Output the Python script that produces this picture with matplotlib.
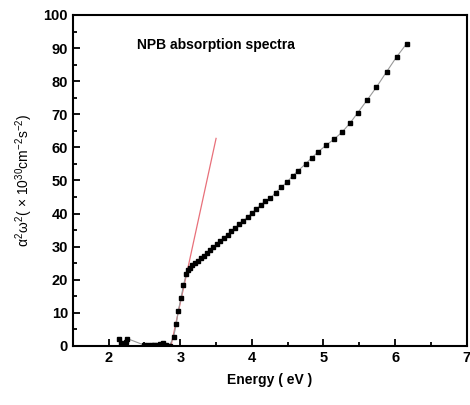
import matplotlib
matplotlib.use("Agg")
import matplotlib.pyplot as plt
from matplotlib.ticker import MultipleLocator

plt.rcParams['font.family'] = ['Liberation Sans', 'DejaVu Sans']
plt.rcParams['mathtext.fontset'] = 'custom'
plt.rcParams['mathtext.rm'] = 'Liberation Sans'
plt.rcParams['mathtext.it'] = 'Liberation Sans'
plt.rcParams['mathtext.bf'] = 'Liberation Sans:bold'

# data
energy = [2.14, 2.17, 2.19, 2.21, 2.24, 2.26,
          2.50, 2.55, 2.60, 2.64, 2.68, 2.72, 2.76, 2.80, 2.85,
          2.907, 2.944, 2.97, 3.01, 3.045, 3.085,
          3.11, 3.13, 3.17, 3.21, 3.25, 3.29, 3.33, 3.37, 3.42, 3.46, 3.51,
          3.56, 3.61, 3.66, 3.71, 3.77, 3.82, 3.88, 3.94, 4.00, 4.06, 4.13, 4.19,
          4.26, 4.33, 4.41, 4.49, 4.57, 4.65, 4.75, 4.84, 4.93, 5.04, 5.15,
          5.26, 5.37, 5.48, 5.61, 5.74, 5.88, 6.02, 6.16]
signal = [2.0, 1.0, 0.4, 0.4, 1.2, 2.2,
          0.2, 0.3, 0.3, 0.4, 0.4, 0.5, 0.8, 0.2, 0.1,
          2.7, 6.6, 10.4, 14.4, 18.4, 21.8,
          23.0, 23.5, 24.3, 25.0, 25.8, 26.5, 27.3, 28.0, 29.0, 29.8, 30.7,
          31.7, 32.6, 33.6, 34.6, 35.7, 36.7, 37.8, 38.9, 40.1, 41.3, 42.7, 43.7,
          44.6, 46.3, 47.9, 49.5, 51.4, 53.0, 55.0, 56.9, 58.7, 60.7, 62.5,
          64.6, 67.3, 70.5, 74.3, 78.2, 82.8, 87.3, 91.3]
fit_energy = [2.87, 3.50]
fit_signal = [0.0, 62.7]

fig = plt.figure(figsize=(4.7, 4.05), dpi=100)
ax = fig.add_axes([0.155, 0.146, 0.838, 0.817])

ax.plot(fit_energy, fit_signal, color='#e8707a', lw=0.9, zorder=2)
ax.plot(energy, signal, color='#999999', lw=0.8, marker='s', ms=3.3,
        mfc='black', mec='black', zorder=3)

ax.set_xlim(1.5, 7)
ax.set_ylim(0, 100)
ax.xaxis.set_major_locator(MultipleLocator(1))
ax.xaxis.set_minor_locator(MultipleLocator(0.5))
ax.yaxis.set_major_locator(MultipleLocator(10))
ax.yaxis.set_minor_locator(MultipleLocator(5))
ax.tick_params(which='both', direction='in', width=1.3, labelsize=10.5)
ax.tick_params(which='major', length=5)
ax.tick_params(which='minor', length=3)
for lab in ax.get_xticklabels() + ax.get_yticklabels():
    lab.set_fontweight('bold')
for s in ax.spines.values():
    s.set_linewidth(1.5)

ax.set_xlabel('Energy ( eV )', fontsize=10, fontweight='bold', labelpad=6)
ax.set_ylabel(r'$\alpha^2\omega^2$( $\times$ 10$^{30}$cm$^{-2}$s$^{-2}$)', fontsize=10, labelpad=6)
ax.text(2.40, 91, 'NPB absorption spectra', fontsize=10, fontweight='bold',
        va='center', ha='left')

fig.savefig('out.png', dpi=100)
